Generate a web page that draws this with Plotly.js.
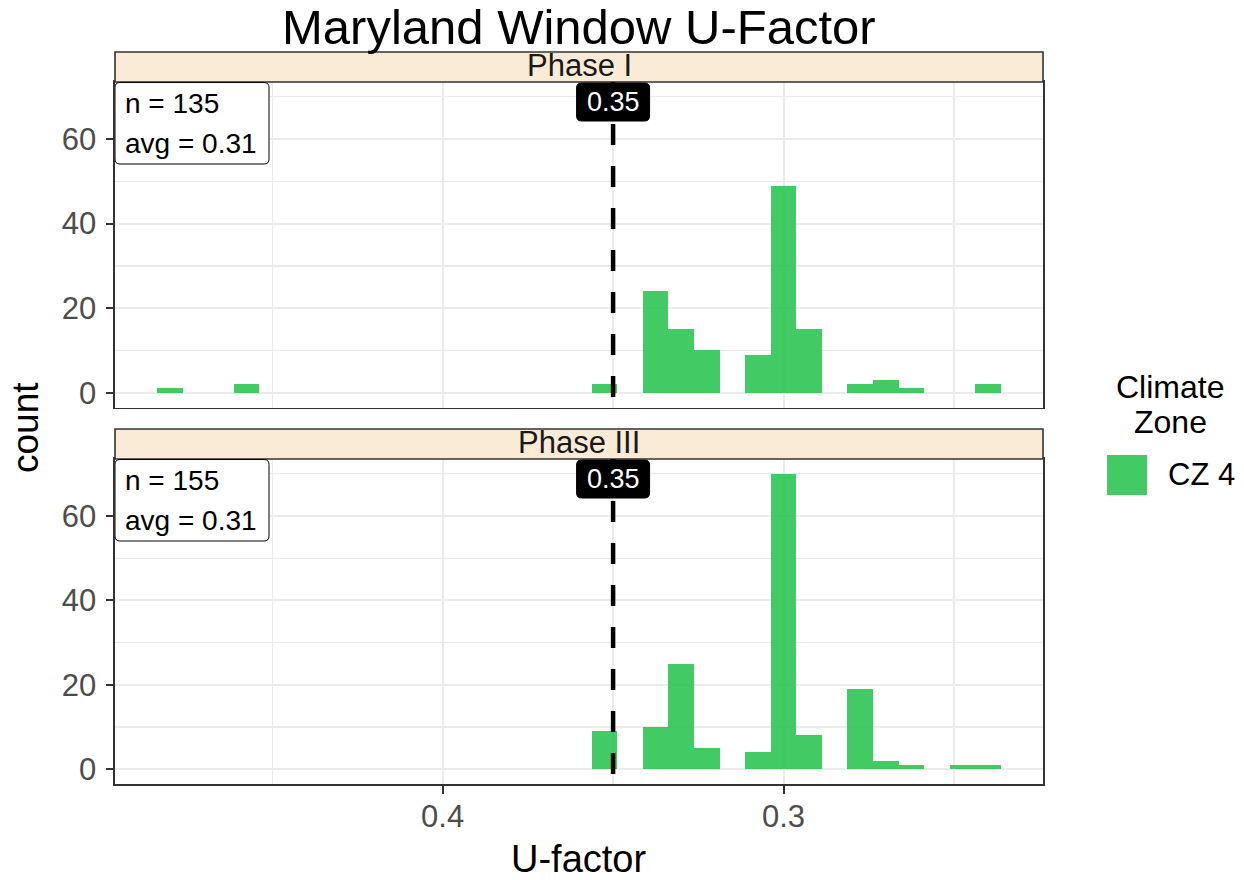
<!DOCTYPE html>
<html><head><meta charset="utf-8">
<script src="https://cdn.plot.ly/plotly-3.0.1.min.js"></script>
<style>html,body{margin:0;padding:0;background:#fff;} #chart{width:1244px;height:880px;}</style>
</head><body><div id="chart"></div>
<script>
// ---------- data ----------
const binCenters   = [0.48, 0.4575, 0.3525, 0.3375, 0.33, 0.3225, 0.3075, 0.30, 0.2925, 0.2775, 0.27, 0.2625, 0.2475, 0.24];
const phase1Counts = [1, 2, 2, 24, 15, 10, 9, 49, 15, 2, 3, 1, 0, 2];
const phase3Counts = [0, 0, 9, 10, 25, 5, 4, 70, 8, 19, 2, 1, 1, 1];
const panelNames = ["Phase I", "Phase III"];
const panelN = [135, 155];
const panelAvg = ["0.31", "0.31"];
const codeLimit = 0.35;
const codeLimitLabel = "0.35";
const legendTitle = ["Climate", "Zone"];
const seriesName = "CZ 4";
const xTickVals = [0.4, 0.3];
const xTickText = ["0.4", "0.3"];
const xMinorVals = [0.45, 0.35, 0.25];
const yTickVals = [0, 20, 40, 60];
const yMinorVals = [10, 30, 50, 70];
const binWidth = 0.0075;

// ---------- geometry ----------
const W = 1244, H = 880;
const M = {l: 115, r: 201, t: 52, b: 96};
const PW = W - M.l - M.r, PH = H - M.t - M.b;
const X = px => (px - M.l) / PW;
const Y = py => (H - M.b - py) / PH;
const FONT = "Liberation Sans, Arial, Helvetica, sans-serif";
const FILL = "rgba(46,196,84,0.9)";
const BORDER = "#333333";

const lo = Math.min(...binCenters) - binWidth / 2, hi = Math.max(...binCenters) + binWidth / 2;
const xpad = 0.05 * (hi - lo);
const xRange = [hi + xpad, lo - xpad];   // reversed axis
const yMax = Math.max(...phase1Counts, ...phase3Counts);
const yRange = [-0.05 * yMax, 1.05 * yMax];

const panels = [{top: 82, bottom: 407.5}, {top: 459, bottom: 784}];
const stripH = 30;

function rr(x0, x1, yT, yB, r) {
  return `M${x0 + r},${yT} L${x1 - r},${yT} Q${x1},${yT} ${x1},${yT - r} L${x1},${yB + r} Q${x1},${yB} ${x1 - r},${yB} ` +
         `L${x0 + r},${yB} Q${x0},${yB} ${x0},${yB + r} L${x0},${yT - r} Q${x0},${yT} ${x0 + r},${yT} Z`;
}

const counts = [phase1Counts, phase3Counts];
const traces = counts.map((c, i) => ({
  type: "bar", x: binCenters, y: c, width: binWidth,
  xaxis: i === 0 ? "x" : "x2", yaxis: i === 0 ? "y" : "y2",
  marker: {color: FILL, line: {width: 0}}, name: seriesName,
  showlegend: false, hoverinfo: "skip"
}));

function xax(showLabels, anchor) {
  return {
    anchor: anchor, domain: [0, 1], range: xRange, zeroline: false,
    tickmode: "array", tickvals: xTickVals, ticktext: xTickText,
    showticklabels: showLabels, ticks: showLabels ? "outside" : "", ticklen: 8, tickwidth: 2, tickcolor: BORDER,
    ticklabelstandoff: -4,
    tickfont: {family: FONT, size: 31, color: "#4D4D4D"},
    showgrid: true, gridcolor: "#EBEBEB", gridwidth: 2,
    minor: {tickmode: "array", tickvals: xMinorVals, showgrid: true, gridcolor: "#EBEBEB", gridwidth: 1.3, ticks: ""},
    showline: true, mirror: true, linecolor: BORDER, linewidth: 1.6
  };
}
function yax(p, anchor) {
  return {
    anchor: anchor, domain: [Y(p.bottom), Y(p.top)], range: yRange, zeroline: false,
    tickmode: "array", tickvals: yTickVals,
    ticks: "outside", ticklen: 7, tickwidth: 2, tickcolor: BORDER,
    ticklabelstandoff: 4,
    tickfont: {family: FONT, size: 31, color: "#4D4D4D"},
    showgrid: true, gridcolor: "#EBEBEB", gridwidth: 2,
    minor: {tickmode: "array", tickvals: yMinorVals, showgrid: true, gridcolor: "#EBEBEB", gridwidth: 1.3, ticks: ""},
    showline: true, mirror: true, linecolor: BORDER, linewidth: 1.6
  };
}

const shapes = [], annotations = [];
panels.forEach((p, i) => {
  const ya = i === 0 ? "y" : "y2", xa = i === 0 ? "x" : "x2";
  // strip
  shapes.push({type: "rect", xref: "paper", yref: "paper", x0: 0, x1: 1, y0: Y(p.top), y1: Y(p.top - stripH),
    fillcolor: "#FAEBD7", line: {color: BORDER, width: 1.6}, layer: "above"});
  annotations.push({xref: "paper", yref: "paper", x: 0.5, y: Y(p.top - stripH / 2), yshift: 1, xanchor: "center", yanchor: "middle",
    text: panelNames[i], showarrow: false, font: {family: FONT, size: 31, color: "#1A1A1A"}});
  // dashed reference line
  shapes.push({type: "line", xref: xa, yref: ya + " domain", x0: codeLimit, x1: codeLimit, y0: 1, y1: 0,
    line: {color: "#000000", width: 4.5, dash: "21px,21px"}});
  // n / avg box
  shapes.push({type: "path", xref: xa, yref: ya, xsizemode: "pixel", ysizemode: "pixel",
    xanchor: xRange[0], yanchor: yRange[1], path: rr(0, 154, -0.5, -82, 5),
    fillcolor: "#FFFFFF", line: {color: "#000000", width: 1}});
  annotations.push({xref: xa + " domain", yref: ya + " domain", x: 0, y: 1, xanchor: "left", yanchor: "middle",
    xshift: 8, yshift: -21, text: "n = " + panelN[i], showarrow: false, font: {family: FONT, size: 28, color: "#000"}});
  annotations.push({xref: xa + " domain", yref: ya + " domain", x: 0, y: 1, xanchor: "left", yanchor: "middle",
    xshift: 8, yshift: -61, text: "avg = " + panelAvg[i], showarrow: false, font: {family: FONT, size: 28, color: "#000"}});
  // 0.35 label
  shapes.push({type: "path", xref: xa, yref: ya, xsizemode: "pixel", ysizemode: "pixel",
    xanchor: codeLimit, yanchor: yRange[1], path: rr(-36.5, 36.5, -1, -39, 5),
    fillcolor: "#000000", line: {color: "#000000", width: 1}});
  annotations.push({xref: xa, yref: ya + " domain", x: codeLimit, y: 1, xanchor: "center", yanchor: "middle",
    yshift: -20, text: codeLimitLabel, showarrow: false, font: {family: FONT, size: 27, color: "#FFFFFF"}});
});

// title & axis titles
annotations.push({xref: "paper", yref: "paper", x: 0.5, y: Y(27), xanchor: "center", yanchor: "middle",
  text: "Maryland Window U-Factor", showarrow: false, font: {family: FONT, size: 49, color: "#000"}});
annotations.push({xref: "paper", yref: "paper", x: X(578), y: Y(859), xanchor: "center", yanchor: "middle",
  text: "U-factor", showarrow: false, font: {family: FONT, size: 38, color: "#000"}});
annotations.push({xref: "paper", yref: "paper", x: X(25), y: Y(428), xanchor: "center", yanchor: "middle",
  text: "count", textangle: -90, showarrow: false, font: {family: FONT, size: 37, color: "#000"}});

// manual legend
annotations.push({xref: "paper", yref: "paper", x: X(1170), y: Y(387), xanchor: "center", yanchor: "middle",
  text: legendTitle[0], showarrow: false, font: {family: FONT, size: 32, color: "#000"}});
annotations.push({xref: "paper", yref: "paper", x: X(1170), y: Y(422), xanchor: "center", yanchor: "middle",
  text: legendTitle[1], showarrow: false, font: {family: FONT, size: 32, color: "#000"}});
shapes.push({type: "rect", xref: "paper", yref: "paper", x0: X(1107), x1: X(1147), y0: Y(495), y1: Y(455),
  fillcolor: FILL, line: {width: 0}});
annotations.push({xref: "paper", yref: "paper", x: X(1166), y: Y(475), xanchor: "left", yanchor: "middle",
  text: seriesName, showarrow: false, font: {family: FONT, size: 31, color: "#000"}});

const layout = {
  width: W, height: H, margin: M, paper_bgcolor: "#FFFFFF", plot_bgcolor: "#FFFFFF",
  showlegend: false, bargap: 0,
  xaxis: xax(false, "y"), yaxis: yax(panels[0], "x"),
  xaxis2: xax(true, "y2"), yaxis2: yax(panels[1], "x2"),
  shapes: shapes, annotations: annotations, font: {family: FONT}
};
Plotly.newPlot("chart", traces, layout, {displayModeBar: false, staticPlot: true});
</script></body></html>
